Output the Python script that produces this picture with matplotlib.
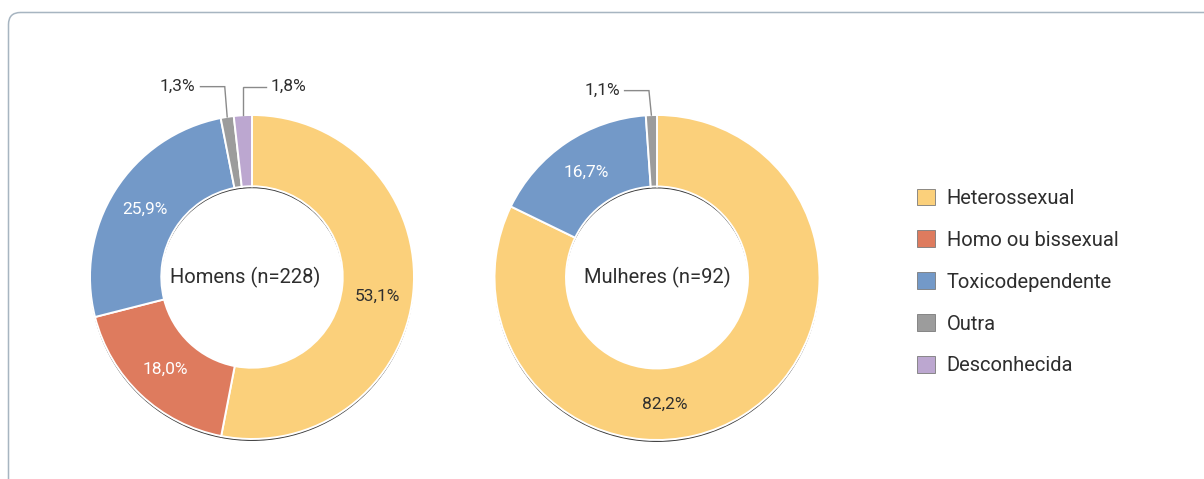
import matplotlib
matplotlib.use('Agg')
import matplotlib.pyplot as plt
from matplotlib.patches import FancyBboxPatch, Patch
from matplotlib.transforms import IdentityTransform
import numpy as np

plt.rcParams['font.family'] = ['Roboto', 'Liberation Sans', 'DejaVu Sans']

# ---- data ----
categories = ['Heterossexual', 'Homo ou bissexual', 'Toxicodependente', 'Outra', 'Desconhecida']
colors = ['#FBD07B', '#DE7B5E', '#7399C8', '#9C9C9C', '#BCA7D0']
men_values = [53.1, 18.0, 25.9, 1.3, 1.8]
women_values = [82.2, 0.0, 16.7, 1.1, 0.0]
men_labels = ['53,1%', '18,0%', '25,9%', '1,3%', '1,8%']
women_labels = ['82,2%', '', '16,7%', '1,1%', '']
titles = ['Homens (n=228)', 'Mulheres (n=92)']

# label placement tweaks (degrees clockwise from 12 o'clock), as in the original layout
men_label_angle = {'53,1%': 98.6}
women_label_angle = {'82,2%': 176.4}

W, H = 1204, 479
fig = plt.figure(figsize=(W / 100, H / 100), dpi=100)

# frame
border = FancyBboxPatch((8.5, -30), 1230, H - 12.5 + 30,
                        boxstyle='round,pad=0,rounding_size=12',
                        transform=IdentityTransform(), facecolor='none',
                        edgecolor='#A7B5C1', linewidth=1.1)
fig.patches.append(border)

DARK = '#2e2e2e'
LINE = '#8a8a8a'
L = 1.25
WIDTH = 0.44
LABEL_FS = 12.5


def donut(cx, cy, R, values, labels, title, small_sides, elbow_y, title_dx, angle_override):
    size = 2 * L * R
    ax = fig.add_axes([(cx - L * R) / W, (H - cy - L * R) / H, size / W, size / H])
    idx = [i for i, v in enumerate(values) if v > 0]
    vals = [values[i] for i in idx]
    cols = [colors[i] for i in idx]
    labs = [labels[i] for i in idx]
    # subtle drop shadow
    ax.pie([1], radius=1, center=(0, -0.012), colors=['#3a3a3a'],
           wedgeprops=dict(width=WIDTH, linewidth=0))
    wedges, _ = ax.pie(vals, colors=cols, startangle=90, counterclock=False,
                       radius=1, wedgeprops=dict(width=WIDTH, edgecolor='white', linewidth=1.4))
    si = 0
    for w, lab, v, c in zip(wedges, labs, vals, cols):
        if not lab:
            continue
        ang = np.deg2rad((w.theta1 + w.theta2) / 2)
        if v >= 5:
            if lab in angle_override:
                ang = np.deg2rad(90 - angle_override[lab])
            r = 1 - WIDTH / 2
            tc = DARK if c == colors[0] else 'white'
            ax.text(r * np.cos(ang), r * np.sin(ang), lab, ha='center', va='center',
                    fontsize=LABEL_FS, color=tc)
        else:
            px, py = np.cos(ang), np.sin(ang)
            side = small_sides[si]
            si += 1
            dx = -0.15 if side == 'left' else 0.14
            ex = px - 0.015 if side == 'left' else px
            ax.plot([px, ex, ex + dx], [py, elbow_y, elbow_y], color=LINE, lw=1.0,
                    clip_on=False, solid_joinstyle='miter')
            tx = ex + dx + (-0.03 if side == 'left' else 0.03)
            ax.text(tx, elbow_y, lab, ha='right' if side == 'left' else 'left',
                    va='center', fontsize=LABEL_FS, color=DARK)
    ax.text(title_dx, 0, title, ha='center', va='center', fontsize=14.5, color=DARK)
    ax.set_xlim(-L, L)
    ax.set_ylim(-L, L)
    ax.set_aspect('equal')
    ax.axis('off')
    return wedges


donut(252, 277, 162, men_values, men_labels, titles[0], ['left', 'right'], 1.175, -0.043,
      men_label_angle)
donut(657, 277.5, 162.5, women_values, women_labels, titles[1], ['left'], 1.15, 0.0,
      women_label_angle)

handles = [Patch(facecolor=c, edgecolor='#7a7a7a', linewidth=0.6) for c in colors]
fig.legend(handles, categories, loc='upper left',
           bbox_to_anchor=(917 / W, (H - 188.5) / H), frameon=False, fontsize=14.5,
           handlelength=0.88, handleheight=0.88, handletextpad=0.6,
           labelspacing=1.13, borderaxespad=0, borderpad=0, labelcolor=DARK)

fig.savefig('out.png', dpi=100)
